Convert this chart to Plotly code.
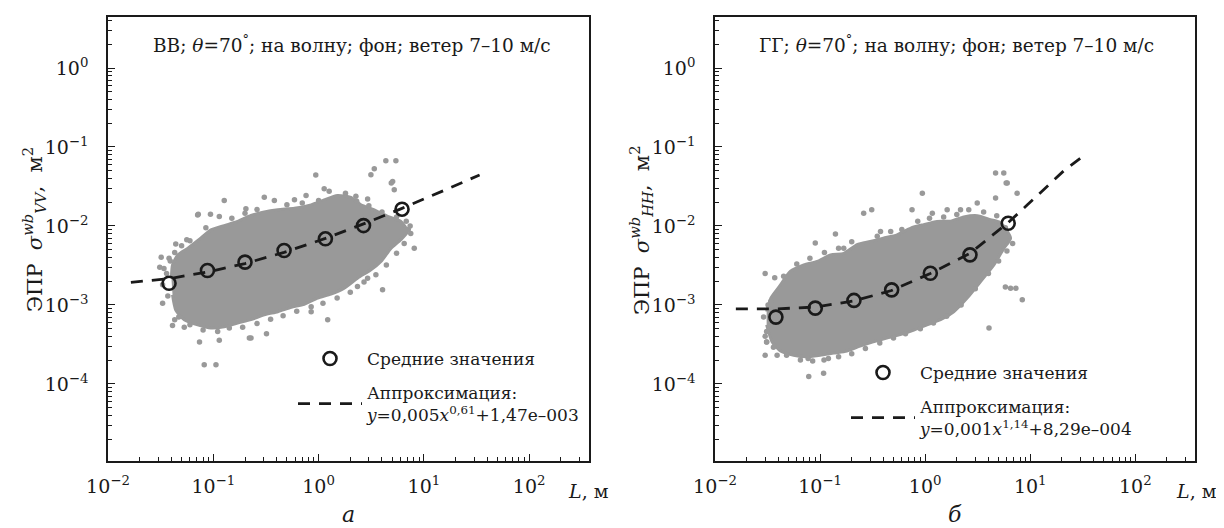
import plotly.graph_objects as go

# ---------------- data ----------------
# panel а (VV)
mean_a_L = [0.038, 0.088, 0.20, 0.47, 1.16, 2.67, 6.2]
mean_a_sigma = [1.88e-3, 2.73e-3, 3.48e-3, 4.89e-3, 6.87e-3, 1.01e-2, 1.63e-2]
fit_a_L = [0.0165, 0.038, 0.088, 0.20, 0.47, 1.16, 2.67, 6.2, 15, 33.8]
fit_a_sigma = [1.93e-3, 2.15e-3, 2.61e-3, 3.34e-3, 4.62e-3, 6.95e-3, 1.06e-2, 1.67e-2, 2.76e-2, 4.42e-2]
# dense core of the scatter cloud (outline)
core_a_L = [0.040, 0.041, 0.046, 0.057, 0.076, 0.095, 0.127, 0.17, 0.228, 0.305, 0.41, 0.59, 0.85, 1.13,
            1.51, 2.03, 2.52, 3.38, 4.52, 6.05, 7.0, 6.05, 4.86, 3.91, 3.14, 2.34, 1.75, 1.31, 0.98, 0.73,
            0.55, 0.41, 0.305, 0.228, 0.17, 0.127, 0.095, 0.071, 0.053, 0.044, 0.041]
core_a_sigma = [2.2e-3, 3.2e-3, 4.3e-3, 5.2e-3, 7.0e-3, 8.9e-3, 1.01e-2, 1.14e-2, 1.36e-2, 1.5e-2, 1.6e-2,
                1.68e-2, 1.85e-2, 2.14e-2, 2.43e-2, 2.3e-2, 1.85e-2, 1.6e-2, 1.32e-2, 1.14e-2, 8.5e-3,
                6.7e-3, 5.2e-3, 3.55e-3, 2.78e-3, 2.18e-3, 1.63e-3, 1.37e-3, 1.22e-3, 1.02e-3, 9.3e-4,
                8.2e-4, 7.5e-4, 6.5e-4, 5.9e-4, 5.3e-4, 5.1e-4, 5.6e-4, 6.5e-4, 8.6e-4, 1.34e-3]
# individual points on the fringe of the cloud
dots_a_L = [0.071, 0.114, 0.127, 0.204, 0.305, 0.38, 0.59, 0.76, 0.94, 1.13, 1.26, 2.26, 3.14, 3.38, 2.92,
            4.35, 5.42, 5.05, 5.23, 8.1, 4.05, 2.92, 2.34, 1.22, 0.85, 0.228, 0.074, 0.082, 0.106, 0.033,
            0.038, 0.033, 0.043, 0.041, 0.053, 0.142, 0.114, 0.034, 0.072, 0.094, 0.044, 0.056, 0.032,
            0.031, 6.8, 7.1, 7.5, 4.9, 0.22, 0.32,
            0.06, 0.085, 0.15, 0.20, 0.26, 0.50, 0.70, 1.0, 1.8, 2.3, 3.0, 4.0, 5.5, 7.4,
            6.5, 5.5, 4.4, 3.5, 2.7, 2.0, 1.5, 1.1, 0.85, 0.62, 0.46, 0.35, 0.26, 0.19, 0.11, 0.08,
            0.06, 0.047, 0.037, 0.036, 0.039, 0.043, 0.05]
dots_a_sigma = [1.38e-2, 1.32e-2, 2.1e-2, 1.65e-2, 2.3e-2, 2.1e-2, 2.14e-2, 2.43e-2, 4.4e-2, 2.96e-2,
                2.74e-2, 2.37e-2, 4.45e-2, 5.3e-2, 2.2e-2, 6.7e-2, 6.7e-2, 3.66e-2, 2.87e-2, 5.2e-3,
                1.55e-3, 2.18e-3, 1.71e-3, 6.5e-4, 8.2e-4, 3.8e-4, 3.4e-4, 1.74e-4, 1.74e-4, 1.8e-3,
                3.9e-3, 1.05e-3, 6.5e-4, 5.5e-4, 5.2e-4, 5.1e-4, 3.57e-4, 2.9e-3, 1.41e-2, 1.41e-2,
                5.9e-3, 6.7e-3, 4.0e-3, 3.0e-3, 1.15e-2, 9e-3, 8e-3, 3.5e-2, 3.8e-4, 4.3e-4,
                6.5e-3, 9.5e-3, 1.25e-2, 1.45e-2, 1.62e-2, 1.85e-2, 1.95e-2, 2.1e-2, 2.6e-2, 2.05e-2,
                1.8e-2, 1.5e-2, 1.3e-2, 1.0e-2,
                6.0e-3, 4.5e-3, 3.2e-3, 2.4e-3, 1.95e-3, 1.45e-3, 1.22e-3, 1.05e-3, 9.5e-4, 8.3e-4,
                7.3e-4, 6.6e-4, 5.8e-4, 5.2e-4, 4.6e-4, 4.8e-4, 5.6e-4, 7.0e-4, 1.3e-3, 2.5e-3, 3.6e-3,
                4.6e-3, 5.6e-3]

# panel б (HH)
mean_b_L = [0.038, 0.090, 0.21, 0.48, 1.12, 2.67, 6.17]
mean_b_sigma = [7.0e-4, 9.1e-4, 1.14e-3, 1.55e-3, 2.52e-3, 4.3e-3, 1.08e-2]
fit_b_L = [0.0158, 0.038, 0.09, 0.209, 0.478, 1.12, 2.67, 6.17, 9.4, 20.9, 33.4]
fit_b_sigma = [8.9e-4, 8.9e-4, 9.4e-4, 1.12e-3, 1.52e-3, 2.5e-3, 4.5e-3, 1.1e-2, 1.85e-2, 5.0e-2, 8.0e-2]
core_b_L = [0.031, 0.034, 0.042, 0.052, 0.070, 0.094, 0.126, 0.168, 0.225, 0.30, 0.40, 0.54, 0.73, 0.97,
            1.30, 1.75, 2.33, 3.13, 4.19, 5.22, 6.5, 5.61, 4.51, 3.37, 2.51, 1.87, 1.40, 1.04, 0.78, 0.58,
            0.43, 0.32, 0.24, 0.18, 0.135, 0.10, 0.075, 0.056, 0.042, 0.035, 0.031]
core_b_sigma = [8.2e-4, 1.22e-3, 1.79e-3, 2.65e-3, 3.2e-3, 3.55e-3, 4.3e-3, 4.5e-3, 5.8e-3, 6.35e-3, 7.0e-3,
                7.7e-3, 9.4e-3, 1.04e-2, 1.14e-2, 1.15e-2, 1.3e-2, 1.35e-2, 1.2e-2, 1.1e-2, 7.0e-3, 5.2e-3,
                3.2e-3, 1.98e-3, 1.22e-3, 8.2e-4, 6.5e-4, 5.6e-4, 4.8e-4, 4.2e-4, 3.8e-4, 3.4e-4, 3.0e-4,
                2.6e-4, 2.45e-4, 2.3e-4, 2.2e-4, 2.3e-4, 2.6e-4, 3.4e-4, 5.6e-4]
dots_b_L = [0.090, 0.14, 0.26, 0.31, 0.168, 0.376, 0.47, 0.75, 0.94, 1.17, 1.62, 2.17, 3.13, 4.68, 4.68,
            5.6, 6.04, 7.5, 6.5, 7.3, 8.4, 4.05, 0.078, 0.108, 0.031, 0.030, 0.031, 0.039, 0.077, 0.109,
            0.031, 0.034, 0.037, 5.9, 5.8, 0.030,
            0.045, 0.06, 0.08, 0.11, 0.15, 0.20, 0.35, 0.60, 0.85, 1.1, 1.5, 2.0, 2.6, 3.6, 4.8, 5.8, 6.8,
            6.0, 5.0, 4.0, 3.0, 2.2, 1.6, 1.2, 0.9, 0.65, 0.5, 0.37, 0.27, 0.2, 0.15, 0.12, 0.085, 0.065,
            0.048, 0.036, 0.030, 0.029, 0.032]
dots_b_sigma = [6.1e-3, 7.9e-3, 1.45e-2, 1.6e-2, 5.2e-3, 8.5e-3, 8.5e-3, 1.6e-2, 2.6e-2, 1.45e-2, 1.6e-2,
                1.6e-2, 1.95e-2, 2.25e-2, 4.67e-2, 4.67e-2, 3.5e-2, 2.6e-2, 1.63e-3, 1.63e-3, 1.16e-3,
                5.1e-4, 1.24e-4, 1.36e-4, 3.4e-4, 2.3e-4, 4.6e-4, 2.3e-4, 2.1e-4, 2.0e-4, 3.4e-4, 1.1e-3,
                2.2e-3, 3.5e-2, 1.69e-3, 2.5e-3,
                2.3e-3, 3.3e-3, 3.9e-3, 4.6e-3, 5.2e-3, 6.3e-3, 7.4e-3, 9.0e-3, 1.15e-2, 1.25e-2, 1.3e-2,
                1.4e-2, 1.6e-2, 1.5e-2, 1.35e-2, 9.5e-3, 6.0e-3,
                4.8e-3, 3.6e-3, 2.5e-3, 1.6e-3, 1.0e-3, 7.2e-4, 5.9e-4, 5.0e-4, 4.3e-4, 3.8e-4, 3.3e-4,
                2.8e-4, 2.4e-4, 2.2e-4, 2.1e-4, 1.95e-4, 2.0e-4, 2.3e-4, 2.9e-4, 4.0e-4, 7e-4, 1.0e-3]

x_tick_vals = [0.01, 0.1, 1, 10, 100]
x_tick_text = ["10<sup>−2</sup>", "10<sup>−1</sup>", "10<sup>0</sup>", "10<sup>1</sup>", "10<sup>2</sup>"]
y_tick_vals = [1e-4, 1e-3, 1e-2, 1e-1, 1]
y_tick_text = ["10<sup>−4</sup>", "10<sup>−3</sup>", "10<sup>−2</sup>", "10<sup>−1</sup>", "10<sup>0</sup>"]

title_a = "ВВ; <i>θ</i>=70<sup>°</sup>; на волну; фон; ветер 7–10 м/с"
title_b = "ГГ; <i>θ</i>=70<sup>°</sup>; на волну; фон; ветер 7–10 м/с"
ylab_a = "ЭПР  <i>σ</i><sup><i>wb</i></sup><sub><i>VV</i></sub>,  м<sup>2</sup>"
ylab_b = "ЭПР  <i>σ</i><sup><i>wb</i></sup><sub><i>HH</i></sub>,  м<sup>2</sup>"
legend_mean = "Средние значения"
legend_fit_a = "Аппроксимация:<br><i>y</i>=0,005<i>x</i><sup>0,61</sup>+1,47e–003"
legend_fit_b = "Аппроксимация:<br><i>y</i>=0,001<i>x</i><sup>1,14</sup>+8,29e–004"

# ---------------- styling ----------------
SERIF = "DejaVu Serif"
INK = "#1a1a1a"
GRAY = "#999999"
W, H = 1224, 528


def px_x(p):
    return p / W


def px_y(p):
    return 1 - p / H


fig = go.Figure()

panels = [
    ("x", "y", core_a_L, core_a_sigma, dots_a_L, dots_a_sigma, fit_a_L, fit_a_sigma,
     mean_a_L, mean_a_sigma, legend_fit_a, "legend"),
    ("x2", "y2", core_b_L, core_b_sigma, dots_b_L, dots_b_sigma, fit_b_L, fit_b_sigma,
     mean_b_L, mean_b_sigma, legend_fit_b, "legend2"),
]
for xa, ya, cL, cS, dL, dS, fL, fS, mL, mS, fitname, leg in panels:
    fig.add_trace(go.Scatter(x=cL, y=cS, xaxis=xa, yaxis=ya, mode="lines", fill="toself",
                             fillcolor=GRAY, line=dict(color=GRAY, width=3, shape="spline", smoothing=0.6),
                             showlegend=False, hoverinfo="skip"))
    fig.add_trace(go.Scatter(x=dL, y=dS, xaxis=xa, yaxis=ya, mode="markers",
                             marker=dict(color=GRAY, size=5.5), showlegend=False, hoverinfo="skip"))
    fig.add_trace(go.Scatter(x=fL, y=fS, xaxis=xa, yaxis=ya, mode="lines", name=fitname,
                             line=dict(color=INK, width=2.8, dash="12px,9px"),
                             legend=leg, legendrank=2, legendgroup=leg + "fit"))
    fig.add_trace(go.Scatter(x=mL, y=mS, xaxis=xa, yaxis=ya, mode="markers", name=legend_mean,
                             marker=dict(symbol="circle-open", size=13, color=INK, line=dict(width=2.6)),
                             legend=leg, legendrank=1, legendgroup=leg + "mean"))


def xaxis(domain, anchor):
    return dict(domain=domain, anchor=anchor, type="log", range=[-2, 2.568], showline=True,
                linecolor=INK, linewidth=1.5, mirror=True, ticks="inside", ticklen=7, tickwidth=1.2,
                tickcolor=INK, tickmode="array", tickvals=x_tick_vals, ticktext=x_tick_text,
                ticklabelstandoff=7, automargin=False,
                tickfont=dict(family=SERIF, size=19, color=INK), showgrid=False, zeroline=False,
                minor=dict(ticks="inside", ticklen=4, tickwidth=1, tickcolor=INK, dtick="D1",
                           showgrid=False))


def yaxis(anchor):
    return dict(domain=[px_y(453), px_y(9)], anchor=anchor, type="log", range=[-4.977, 0.646],
                showline=True, linecolor=INK, linewidth=1.5, mirror=True, ticks="inside", ticklen=7,
                tickwidth=1.2, tickcolor=INK, tickmode="array", tickvals=y_tick_vals,
                ticktext=y_tick_text, ticklabelstandoff=14, automargin=False,
                tickfont=dict(family=SERIF, size=19, color=INK), showgrid=False, zeroline=False,
                minor=dict(ticks="inside", ticklen=4, tickwidth=1, tickcolor=INK, dtick="D1",
                           showgrid=False))


legend_common = dict(bgcolor="rgba(0,0,0,0)", font=dict(family=SERIF, size=17, color=INK),
                     itemwidth=64, xanchor="left", yanchor="top", tracegroupgap=9)

fig.update_layout(
    width=W, height=H, margin=dict(l=0, r=0, t=0, b=0, autoexpand=False),
    paper_bgcolor="white", plot_bgcolor="white",
    xaxis=xaxis([px_x(100), px_x(581)], "y"),
    yaxis=yaxis("x"),
    xaxis2=xaxis([px_x(707), px_x(1187)], "y2"),
    yaxis2=yaxis("x2"),
    legend=legend_common | dict(x=px_x(285), y=px_y(333)),
    legend2=legend_common | dict(x=px_x(838), y=px_y(347)),
    font=dict(family=SERIF, color=INK),
)

ann = [
    dict(text=title_a, x=px_x(344), y=px_y(36), size=18.5),
    dict(text=title_b, x=px_x(948), y=px_y(36), size=18.5),
    dict(text="<i>L</i>, м", x=px_x(558), y=px_y(483), size=19, xanchor="left"),
    dict(text="<i>L</i>, м", x=px_x(1166), y=px_y(483), size=19, xanchor="left"),
    dict(text="<i>а</i>", x=px_x(340), y=px_y(506), size=22),
    dict(text="<i>б</i>", x=px_x(947), y=px_y(506), size=22),
    dict(text=ylab_a, x=px_x(26), y=px_y(222), size=21, textangle=-90),
    dict(text=ylab_b, x=px_x(633), y=px_y(222), size=21, textangle=-90),
]
for a in ann:
    fig.add_annotation(text=a["text"], x=a["x"], y=a["y"], xref="paper", yref="paper",
                       showarrow=False, xanchor=a.get("xanchor", "center"),
                       yanchor=a.get("yanchor", "middle"),
                       textangle=a.get("textangle", 0),
                       font=dict(family=SERIF, size=a["size"], color=INK))

fig.write_html("out.html")
